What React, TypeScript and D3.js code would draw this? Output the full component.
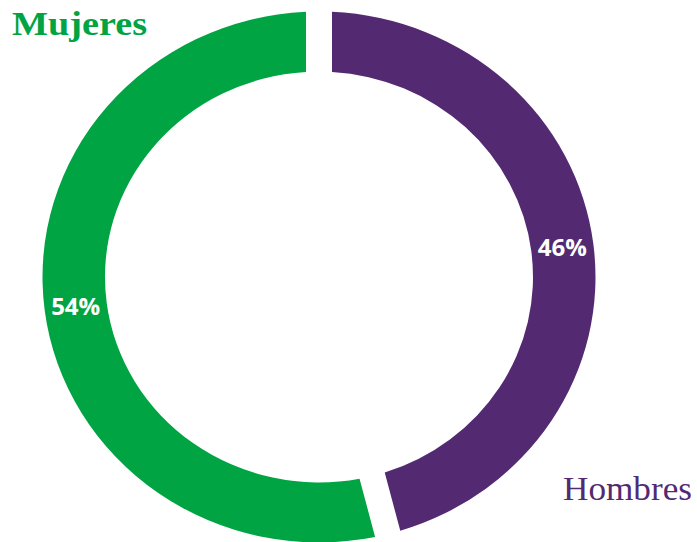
import React from "react";
import * as d3 from "d3";

const categories = ["Hombres", "Mujeres"];
const values = [46, 54];
const labels = ["46%", "54%"];
const colors = ["#532a72", "#00a443"];

const W = 697;
const H = 542;

export default function App() {
  const cx = 319;
  const cy = 277;
  const sy = 0.96;
  const outerR = 276.5;
  const innerR = 214;
  const gap = 26;

  const pie = d3
    .pie<number>()
    .sort(null)
    .startAngle(0)
    .endAngle(2 * Math.PI)
    .value((d) => d);
  const arcs = pie(values);

  const arc = d3
    .arc<d3.PieArcDatum<number>>()
    .innerRadius(innerR)
    .outerRadius(outerR)
    .padRadius(outerR)
    .padAngle(gap / outerR);

  const labelArc = d3
    .arc<d3.PieArcDatum<number>>()
    .innerRadius((innerR + outerR) / 2)
    .outerRadius((innerR + outerR) / 2);

  return (
    <svg
      width={W}
      height={H}
      style={{ position: "absolute", left: 0, top: 0, background: "#fff" }}
    >
      <g transform={`translate(${cx},${cy}) scale(1,${sy})`}>
        {arcs.map((a, i) => (
          <path key={categories[i]} d={arc(a) || ""} fill={colors[i]} />
        ))}
      </g>
      {arcs.map((a, i) => {
        const [x, y] = labelArc.centroid(a);
        return (
          <text
            key={"l" + i}
            x={cx + x}
            y={cy + y * sy}
            dy="0.36em"
            textAnchor="middle"
            fill="#fff"
            fontFamily="'Open Sans', sans-serif"
            fontWeight="bold"
            fontSize={24}
          >
            {labels[i]}
          </text>
        );
      })}
      <text
        x={12}
        y={35}
        fill={colors[1]}
        fontFamily="'Liberation Serif', 'DejaVu Serif', serif"
        fontWeight="bold"
        fontSize={34}
        textLength={135}
        lengthAdjust="spacingAndGlyphs"
      >
        {categories[1]}
      </text>
      <text
        x={563}
        y={500}
        fill={colors[0]}
        fontFamily="'Liberation Serif', 'DejaVu Serif', serif"
        fontSize={34}
        textLength={129}
        lengthAdjust="spacingAndGlyphs"
      >
        {categories[0]}
      </text>
    </svg>
  );
}
